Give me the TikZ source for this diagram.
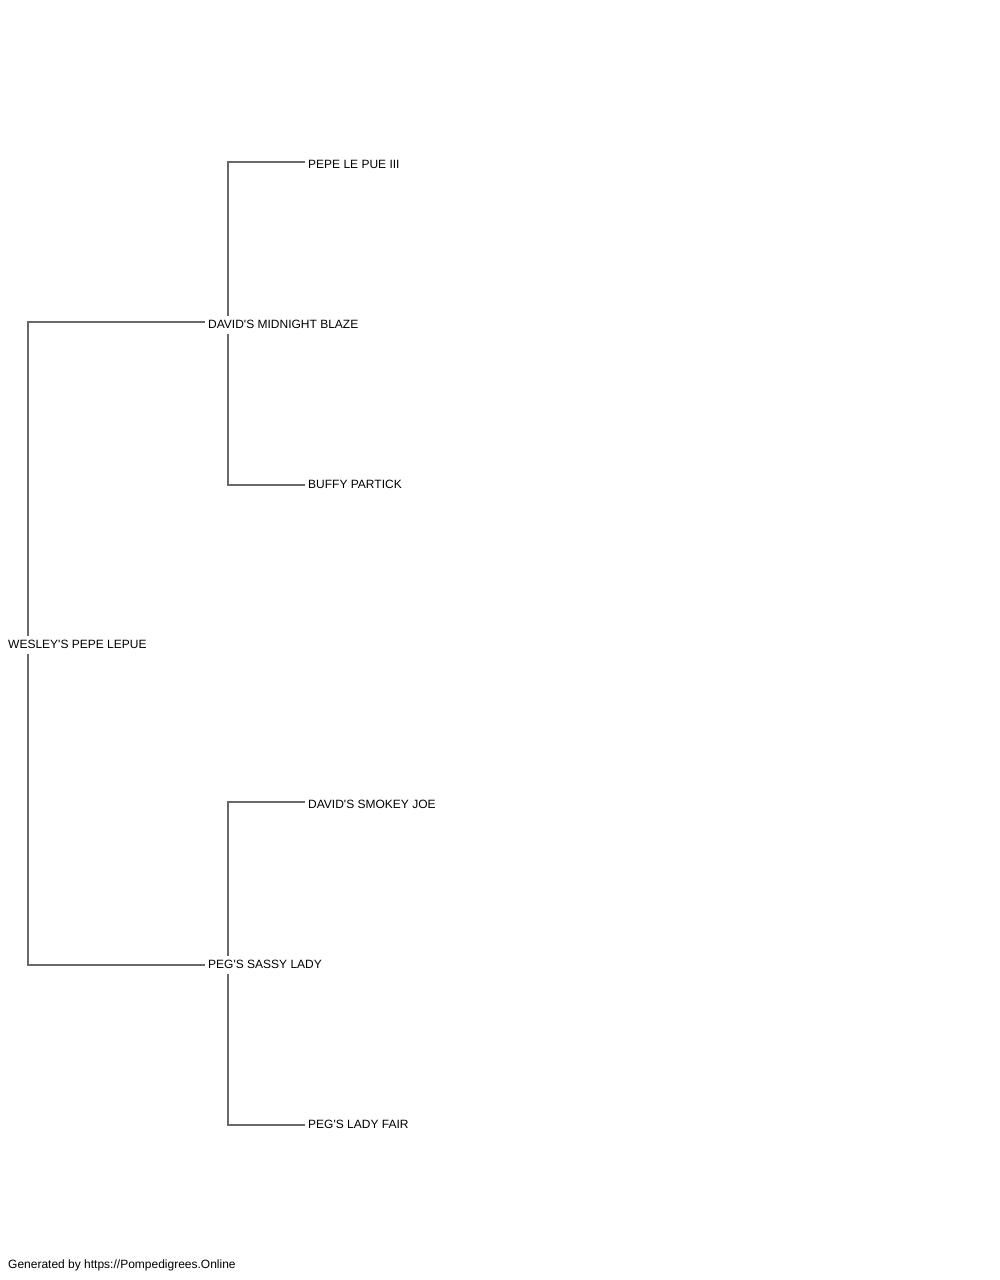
\documentclass[tikz,border=0pt]{standalone}
\usepackage{fontspec}
\newfontfamily\dogfont{Liberation Sans}
\definecolor{linegray}{RGB}{105,105,105}
\begin{document}
\begin{tikzpicture}[x=1pt,y=-1pt,
  dog/.style={anchor=base west,font=\dogfont\fontsize{12pt}{14pt}\selectfont,text height=8pt,text depth=2pt,inner xsep=3pt,inner ysep=4pt},
  link/.style={draw=linegray,line width=1.2pt}]
\useasboundingbox (0,0) rectangle (1000,1280);
\node[dog] (root) at (5,648) {WESLEY'S PEPE LEPUE};
\node[dog] (sire) at (205,328) {DAVID'S MIDNIGHT BLAZE};
\node[dog] (dam) at (205,968) {PEG'S SASSY LADY};
\node[dog] (ss) at (305,168) {PEPE LE PUE III};
\node[dog] (sd) at (305,488) {BUFFY PARTICK};
\node[dog] (ds) at (305,808) {DAVID'S SMOKEY JOE};
\node[dog] (dd) at (305,1128) {PEG'S LADY FAIR};
\node[dog] (foot) at (5,1268) {Generated by https://Pompedigrees.Online};
\draw[link] ([xshift=23pt]root.north west) |- ([yshift=3pt]sire.west);
\draw[link] ([xshift=23pt]root.south west) |- (dam.west);
\draw[link] ([xshift=23pt]sire.north west) |- ([yshift=3pt]ss.west);
\draw[link] ([xshift=23pt]sire.south west) |- (sd.west);
\draw[link] ([xshift=23pt]dam.north west) |- ([yshift=3pt]ds.west);
\draw[link] ([xshift=23pt]dam.south west) |- (dd.west);
\end{tikzpicture}
\end{document}
